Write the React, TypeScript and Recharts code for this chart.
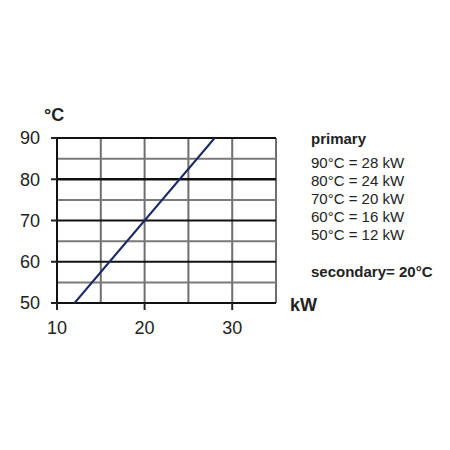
import React from "react";
import { LineChart, Line, XAxis, YAxis, ReferenceLine } from "recharts";

const powerKw = [12, 16, 20, 24, 28];
const tempC = [50, 60, 70, 80, 90];
const xTicks = [10, 20, 30];
const yTicks = [50, 60, 70, 80, 90];
const xMajorGrid = [10];
const xMinorGrid = [15, 20, 25, 30, 35];
const yMajorGrid = [50, 60, 70, 80, 90];
const yMinorGrid = [55, 65, 75, 85];
const legendLines = ["90°C = 28 kW", "80°C = 24 kW", "70°C = 20 kW", "60°C = 16 kW", "50°C = 12 kW"];

const data = powerKw.map((kw, i) => ({ kw, t: tempC[i] }));
const font = "Arial, 'Liberation Sans', sans-serif";

export default function App() {
  return (
    <div style={{ position: "absolute", left: 0, top: 0, width: 450, height: 450, background: "#fff", fontFamily: font }}>
      <LineChart width={450} height={450} data={data} margin={{ top: 138, right: 174, left: 17, bottom: 117 }}>
        <XAxis
          type="number"
          dataKey="kw"
          domain={[10, 35]}
          ticks={xTicks}
          allowDataOverflow
          axisLine={false}
          tickSize={7}
          tickMargin={11}
          height={30}
          tickLine={{ stroke: "#222", strokeWidth: 2 }}
          tick={{ fontSize: 18, fill: "#222", fontFamily: font }}
        />
        <YAxis
          type="number"
          domain={[50, 90]}
          ticks={yTicks}
          width={40}
          axisLine={false}
          tickSize={6}
          tickMargin={11}
          tickLine={{ stroke: "#222", strokeWidth: 2 }}
          tick={{ fontSize: 18, fill: "#222", fontFamily: font }}
        />
        {xMinorGrid.map((v) => (
          <ReferenceLine key={"xm" + v} x={v} stroke="#6e6e6e" strokeWidth={2} />
        ))}
        {yMinorGrid.map((v) => (
          <ReferenceLine key={"ym" + v} y={v} stroke="#7a7a7a" strokeWidth={2} />
        ))}
        {yMajorGrid.map((v) => (
          <ReferenceLine key={"yM" + v} y={v} stroke="#111" strokeWidth={v === 80 ? 2.5 : 2} />
        ))}
        {xMajorGrid.map((v) => (
          <ReferenceLine key={"xM" + v} x={v} stroke="#111" strokeWidth={2} />
        ))}
        <Line
          type="linear"
          dataKey="t"
          stroke="#1b2a66"
          strokeWidth={2}
          dot={false}
          isAnimationActive={false}
        />
      </LineChart>
      <div style={{ position: "absolute", left: 44, top: 105, fontSize: 18, fontWeight: "bold", color: "#222" }}>°C</div>
      <div style={{ position: "absolute", left: 290, top: 295, fontSize: 18, fontWeight: "bold", color: "#222" }}>kW</div>
      <div style={{ position: "absolute", left: 311, top: 130, fontSize: 15, color: "#222", lineHeight: "18px" }}>
        <div style={{ fontWeight: "bold", marginBottom: 6 }}>primary</div>
        {legendLines.map((s) => (
          <div key={s}>{s}</div>
        ))}
        <div style={{ fontWeight: "bold", marginTop: 19 }}>secondary= 20°C</div>
      </div>
    </div>
  );
}
